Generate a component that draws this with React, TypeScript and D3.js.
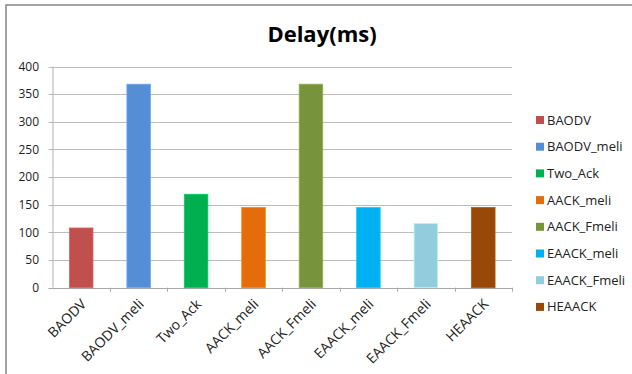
import React from "react";
import * as d3 from "d3";

const categories = ["BAODV", "BAODV_meli", "Two_Ack", "AACK_meli", "AACK_Fmeli", "EAACK_meli", "EAACK_Fmeli", "HEAACK"];
const delays = [108, 368, 169, 145, 368, 145, 116, 145];
const colors = ["#C0504D", "#558ED5", "#00B050", "#E46C0A", "#77933C", "#00B0F0", "#93CDDD", "#984807"];
const yTicks = [0, 50, 100, 150, 200, 250, 300, 350, 400];
const title = "Delay(ms)";

const W = 632;
const H = 374;
const margin = { left: 52.5, right: 512, top: 66.5, bottom: 287.7 };
const font = "'Open Sans', sans-serif";

export default function App() {
  const x = d3.scaleBand<string>().domain(categories).range([margin.left, margin.right]).paddingInner(0.59).paddingOuter(0.295);
  const band = d3.scaleBand<string>().domain(categories).range([margin.left, margin.right]);
  const y = d3.scaleLinear().domain([0, 400]).range([margin.bottom, margin.top]);

  return (
    <svg width={W} height={H} style={{ position: "absolute", left: 0, top: 0, background: "#fff" }}>
      <rect x={6} y={5} width={800} height={500} fill="#fff" stroke="#8c8c8c" strokeWidth={1.6} />
      <text x={322} y={41.5} textAnchor="middle" fontFamily={font} fontWeight={700} fontSize={22} fill="#000">
        {title}
      </text>
      {yTicks.map((t) => (
        <g key={t}>
          <line x1={margin.left - 4} x2={margin.right} y1={Math.round(y(t)) + 0.5} y2={Math.round(y(t)) + 0.5} stroke={t === 0 ? "#a8a8a8" : "#bcbcbc"} strokeWidth={1} />
          <text x={39} y={y(t)} dy="0.35em" textAnchor="end" fontFamily={font} fontSize={12} fill="#222">
            {t}
          </text>
        </g>
      ))}
      <line x1={margin.left + 0.5} x2={margin.left + 0.5} y1={margin.top} y2={margin.bottom} stroke="#b0b0b0" />
      {categories.map((c, i) => (
        <line key={"t" + i} x1={Math.round(band(c)! + band.bandwidth()) + 0.5} x2={Math.round(band(c)! + band.bandwidth()) + 0.5} y1={margin.bottom} y2={margin.bottom + 4} stroke="#a8a8a8" />
      ))}
      {categories.map((c, i) => (
        <rect key={"b" + i} x={x(c)} y={y(delays[i])} width={x.bandwidth()} height={y(0) - y(delays[i])} fill={colors[i]} stroke={d3.color(colors[i])!.brighter(0.5).formatHex()} strokeWidth={0.8} />
      ))}
      {categories.map((c, i) => {
        const cx = band(c)! + band.bandwidth() / 2 + 6;
        const cy = 305;
        return (
          <text key={"l" + i} x={cx} y={cy} textAnchor="end" fontFamily={font} fontSize={14} fill="#222" transform={`rotate(-45 ${cx} ${cy})`}>
            {c}
          </text>
        );
      })}
      {categories.map((c, i) => {
        const ly = 120 + i * 26.7;
        return (
          <g key={"g" + i}>
            <rect x={536} y={ly - 4} width={8} height={8} fill={colors[i]} />
            <text x={547} y={ly} dy="0.35em" fontFamily={font} fontSize={13} fill="#222">
              {c}
            </text>
          </g>
        );
      })}
    </svg>
  );
}
